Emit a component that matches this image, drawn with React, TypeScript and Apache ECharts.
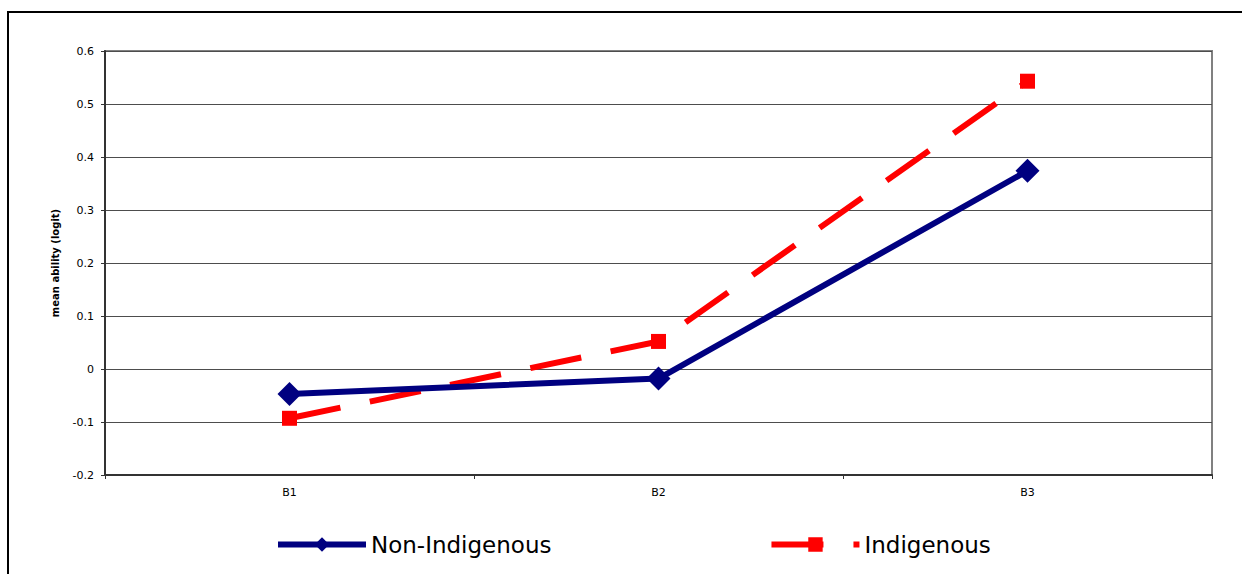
import React, { useEffect, useRef } from "react";
import * as echarts from "echarts";

// Ability categories along the x axis
const categories = ["B1", "B2", "B3"];

// Mean ability (logit) for each group
const nonIndigenous = [-0.047, -0.018, 0.374];
const indigenous = [-0.093, 0.052, 0.543];

// Value axis settings
const yMin = -0.2;
const yMax = 0.6;
const yStep = 0.1;

const FONT = "DejaVu Sans";
const NAVY = "#000080";
const RED = "#ff0000";

export default function App() {
  const ref = useRef<HTMLDivElement>(null);

  useEffect(() => {
    if (!ref.current) return;
    const chart = echarts.init(ref.current, undefined, { renderer: "svg" });

    chart.setOption({
      animation: false,
      backgroundColor: "#ffffff",
      textStyle: { fontFamily: FONT },
      graphic: [
        {
          type: "rect",
          z: -10,
          silent: true,
          shape: { x: 8, y: 12, width: 1400, height: 700 },
          style: { fill: "none", stroke: "#000000", lineWidth: 2 },
        },
      ],
      grid: {
        left: 105,
        right: 30,
        top: 51,
        bottom: 99,
        show: true,
        borderColor: "#808080",
        borderWidth: 2,
        backgroundColor: "transparent",
      },
      legend: {
        left: 270,
        top: 528,
        itemWidth: 88,
        itemHeight: 18,
        itemGap: 217,
        textStyle: { fontFamily: FONT, fontSize: 23, color: "#000000" },
        data: [
          {
            name: "Non-Indigenous",
            lineStyle: { color: NAVY, width: 6, type: "solid" },
            itemStyle: { color: NAVY },
          },
          {
            name: "Indigenous",
            lineStyle: { color: RED, width: 6, type: [52, 30] },
            itemStyle: { color: RED },
          },
        ],
      },
      xAxis: {
        type: "category",
        data: categories,
        boundaryGap: true,
        axisLine: { onZero: false, lineStyle: { color: "#333333", width: 2 } },
        axisTick: { show: true, length: 4, inside: false, lineStyle: { color: "#333333", width: 1 } },
        axisLabel: { fontFamily: FONT, fontSize: 11, color: "#000000", margin: 12 },
        splitLine: { show: false },
      },
      yAxis: {
        type: "value",
        min: yMin,
        max: yMax,
        interval: yStep,
        name: "mean ability (logit)",
        nameLocation: "middle",
        nameRotate: 90,
        nameGap: 45,
        nameTextStyle: { fontFamily: FONT, fontSize: 10, fontWeight: "bold", color: "#000000" },
        axisLine: { show: true, onZero: false, lineStyle: { color: "#333333", width: 2 } },
        axisTick: { show: true, length: 4, inside: false, lineStyle: { color: "#333333", width: 1 } },
        axisLabel: { fontFamily: FONT, fontSize: 11, color: "#000000", margin: 11 },
        splitLine: { show: true, lineStyle: { color: "#4d4d4d", width: 1 } },
      },
      series: [
        {
          name: "Non-Indigenous",
          type: "line",
          data: nonIndigenous,
          color: NAVY,
          lineStyle: { color: NAVY, width: 6 },
          itemStyle: { color: NAVY },
          symbol: "diamond",
          symbolSize: 24,
          z: 3,
        },
        {
          name: "Indigenous",
          type: "line",
          data: indigenous,
          color: RED,
          lineStyle: { color: RED, width: 6, type: [52, 30] },
          itemStyle: { color: RED },
          symbol: "rect",
          symbolSize: 15,
          z: 2,
        },
      ],
    });

    return () => {
      chart.dispose();
    };
  }, []);

  return (
    <div
      ref={ref}
      style={{ position: "fixed", left: 0, top: 0, width: 1242, height: 574 }}
    />
  );
}
